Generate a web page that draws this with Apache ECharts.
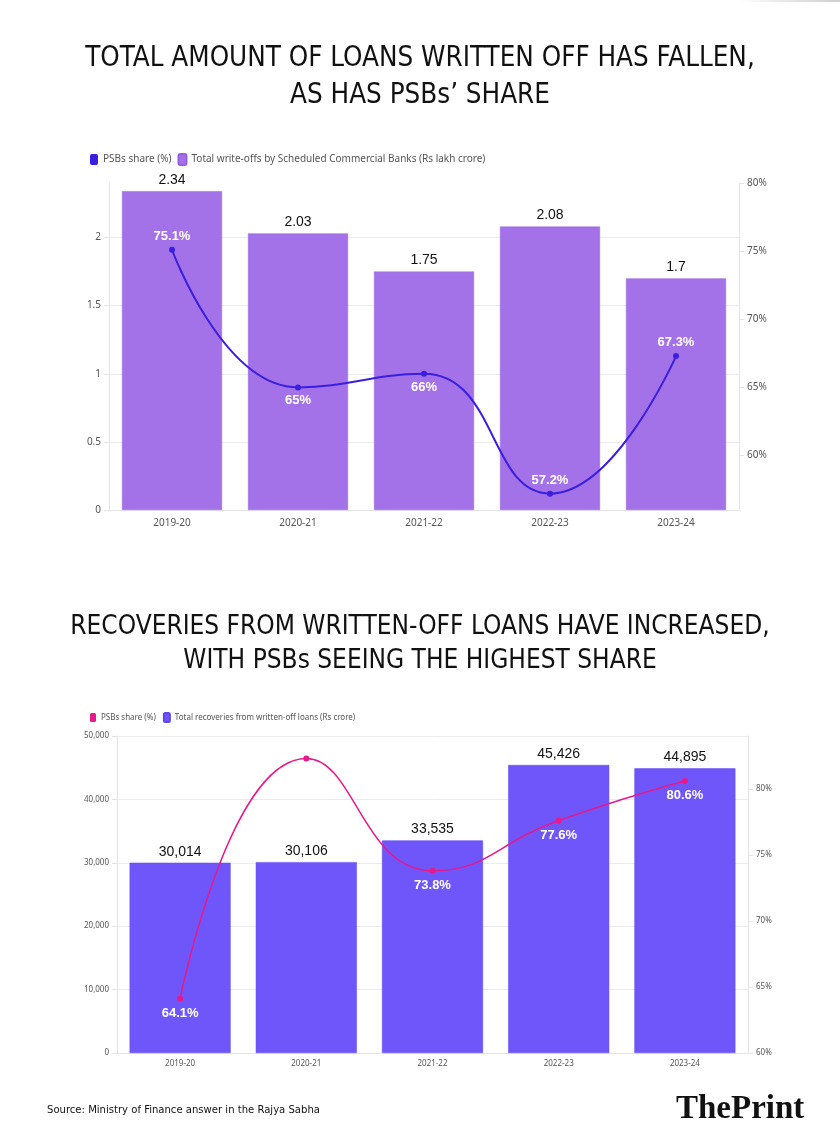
<!DOCTYPE html>
<html>
<head>
<meta charset="utf-8">
<script src="https://cdn.jsdelivr.net/npm/echarts@6/dist/echarts.min.js"></script>
<style>
html,body{margin:0;padding:0;background:#fff;}
#chart{width:840px;height:1146px;}
</style>
</head>
<body>
<div id="chart"></div>
<script>
const categories = ['2019-20', '2020-21', '2021-22', '2022-23', '2023-24'];
const writeOffs = [2.34, 2.03, 1.75, 2.08, 1.7];
const writeOffShare = [75.1, 65, 66, 57.2, 67.3];
const recoveries = [30014, 30106, 33535, 45426, 44895];
const recoveryShare = [64.1, 82.3, 73.8, 77.6, 80.6];

const title1 = 'TOTAL AMOUNT OF LOANS WRITTEN OFF HAS FALLEN,\nAS HAS PSBs\u2019 SHARE';
const title2 = 'RECOVERIES FROM WRITTEN-OFF LOANS HAVE INCREASED,\nWITH PSBs SEEING THE HIGHEST SHARE';
const source = 'Source: Ministry of Finance answer in the Rajya Sabha';

const nameShare1 = 'PSBs share (%)';
const nameWO = 'Total write-offs by Scheduled Commercial Banks (Rs lakh crore)';
const nameShare2 = 'PSBs share (%) ';
const nameRec = 'Total recoveries from written-off loans (Rs crore)';

const labelPos1 = ['top', 'bottom', 'bottom', 'top', 'top'];
const labelPos2 = ['bottom', 'top', 'bottom', 'bottom', 'bottom'];

const narrow = "'Liberation Sans Narrow', 'DejaVu Sans Condensed', sans-serif";
const uiFont = "'Noto Sans', 'Open Sans', sans-serif";
const numFont = "'Liberation Sans', Arial, sans-serif";

const fmt = v => Number(v).toLocaleString('en-US');

const chart = echarts.init(document.getElementById('chart'), null, {renderer: 'canvas'});

const axisGray = '#e4e4e4';
const labelGray = '#555';

const option = {
  backgroundColor: '#fff',
  animation: false,
  graphic: [
    {type: 'rect', shape: {x: 740, y: 0, width: 100, height: 2},
     style: {fill: new echarts.graphic.LinearGradient(0, 0, 1, 0, [{offset: 0, color: 'rgba(200,200,200,0)'}, {offset: 1, color: '#cfcfcf'}])}}
  ],
  title: [
    {text: title1, left: 'center', top: 40, padding: 0, textStyle: {fontFamily: narrow, fontSize: 27.5, fontWeight: 'normal', color: '#111', lineHeight: 37}},
    {text: title2, left: 'center', top: 610, padding: 0, textStyle: {fontFamily: narrow, fontSize: 26, fontWeight: 'normal', color: '#111', lineHeight: 34}},
    {text: source, left: 47, top: 1105, padding: 0, textStyle: {fontFamily: narrow, fontSize: 11.2, fontWeight: 'normal', color: '#111'}},
    {text: '{a|The}{b|Print}', left: 676, top: 1093, padding: 0, textStyle: {rich: {
      a: {fontFamily: "'Liberation Serif', serif", fontSize: 33, color: '#111'},
      b: {fontFamily: "'Liberation Serif', serif", fontSize: 33, fontWeight: 'bold', color: '#111'}
    }}}
  ],
  legend: [
    {data: [nameShare1, nameWO], left: 85, top: 148, icon: 'roundRect', itemWidth: 8, itemHeight: 11, itemGap: 6,
     textStyle: {fontFamily: uiFont, fontSize: 10, color: labelGray}},
    {data: [nameShare2, nameRec], left: 85, top: 707, icon: 'roundRect', itemWidth: 6, itemHeight: 9, itemGap: 5,
     textStyle: {fontFamily: uiFont, fontSize: 8, color: labelGray}}
  ],
  grid: [
    {left: 109, right: 101, top: 183, bottom: 636},
    {left: 117, right: 92, top: 736, bottom: 93}
  ],
  xAxis: [
    {type: 'category', gridIndex: 0, data: categories,
     axisLine: {lineStyle: {color: axisGray}}, axisTick: {alignWithLabel: true, length: 4, lineStyle: {color: '#ddd'}},
     axisLabel: {fontFamily: uiFont, fontSize: 10, color: labelGray, margin: 8}},
    {type: 'category', gridIndex: 1, data: categories,
     axisLine: {lineStyle: {color: axisGray}}, axisTick: {alignWithLabel: true, length: 4, lineStyle: {color: '#ddd'}},
     axisLabel: {fontFamily: uiFont, fontSize: 8, color: labelGray, margin: 7}}
  ],
  yAxis: [
    {type: 'value', gridIndex: 0, min: 0, max: 2.4, interval: 0.5, position: 'left',
     axisLine: {show: true, lineStyle: {color: axisGray}}, axisTick: {show: true, length: 5, lineStyle: {color: axisGray}},
     splitLine: {show: true, showMaxLine: false, lineStyle: {color: '#ececec'}},
     axisLabel: {fontFamily: uiFont, fontSize: 10, color: labelGray, showMaxLabel: false, margin: 8}},
    {type: 'value', gridIndex: 0, min: 56, max: 80, position: 'right',
     axisLine: {show: true, lineStyle: {color: axisGray}}, axisTick: {show: true, length: 5, lineStyle: {color: axisGray}},
     splitLine: {show: false},
     axisLabel: {fontFamily: uiFont, fontSize: 10, color: labelGray, showMinLabel: false, formatter: '{value}%', margin: 8}},
    {type: 'value', gridIndex: 1, min: 0, max: 50000, interval: 10000, position: 'left',
     axisLine: {show: true, lineStyle: {color: axisGray}}, axisTick: {show: true, length: 5, lineStyle: {color: axisGray}},
     splitLine: {show: true, lineStyle: {color: '#ececec'}},
     axisLabel: {fontFamily: uiFont, fontSize: 8, color: labelGray, formatter: v => fmt(v), margin: 8}},
    {type: 'value', gridIndex: 1, min: 60, max: 84, interval: 5, position: 'right',
     axisLine: {show: true, lineStyle: {color: axisGray}}, axisTick: {show: true, length: 5, lineStyle: {color: axisGray}},
     splitLine: {show: false},
     axisLabel: {fontFamily: uiFont, fontSize: 8, color: labelGray, showMaxLabel: false, formatter: '{value}%', margin: 8}}
  ],
  series: [
    {name: nameWO, type: 'bar', xAxisIndex: 0, yAxisIndex: 0, data: writeOffs, barWidth: 100,
     itemStyle: {color: '#a472e8', borderColor: '#9560e0', borderWidth: 0.5},
     label: {show: true, position: 'top', distance: 4, fontFamily: numFont, fontSize: 14, color: '#111'}},
    {name: nameShare1, type: 'line', xAxisIndex: 0, yAxisIndex: 1, smooth: 0.5,
     data: writeOffShare.map((v, i) => ({value: v, label: {position: labelPos1[i]}})),
     symbol: 'circle', symbolSize: 6, z: 5,
     itemStyle: {color: '#3a1fe0'}, lineStyle: {color: '#3a1fe0', width: 2},
     label: {show: true, distance: 4, formatter: p => p.value + '%', fontFamily: numFont, fontSize: 13, fontWeight: 'bold', color: '#fff'}},
    {name: nameRec, type: 'bar', xAxisIndex: 1, yAxisIndex: 2, data: recoveries, barWidth: 101,
     itemStyle: {color: '#6e56fb', borderColor: '#5f47f0', borderWidth: 0.5},
     label: {show: true, position: 'top', distance: 4, fontFamily: numFont, fontSize: 14, color: '#111', formatter: p => fmt(p.value)}},
    {name: nameShare2, type: 'line', xAxisIndex: 1, yAxisIndex: 3, smooth: 0.5,
     data: recoveryShare.map((v, i) => ({value: v, label: {position: labelPos2[i]}})),
     symbol: 'circle', symbolSize: 6, z: 5,
     itemStyle: {color: '#e8198b'}, lineStyle: {color: '#e8198b', width: 1.5},
     label: {show: true, distance: 5, formatter: p => p.value + '%', fontFamily: numFont, fontSize: 13, fontWeight: 'bold', color: '#fff'}}
  ]
};
chart.setOption(option);
</script>
</body>
</html>
